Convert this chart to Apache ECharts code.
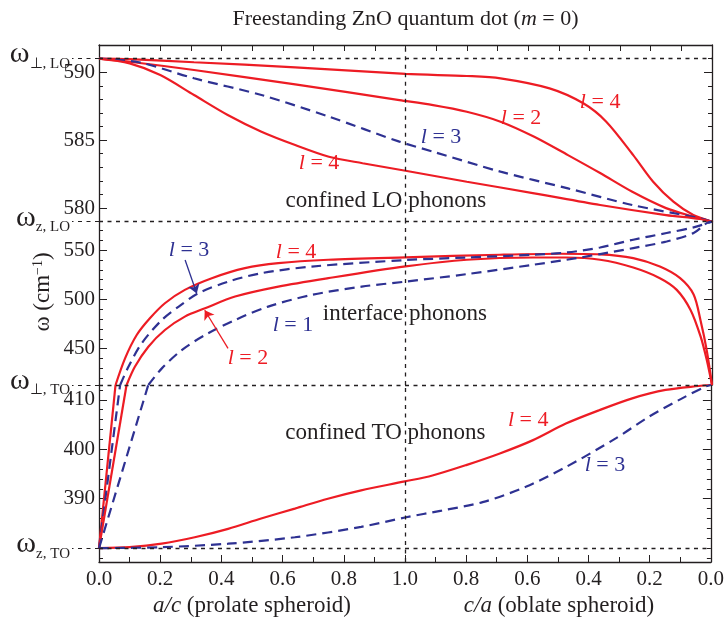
<!DOCTYPE html>
<html><head><meta charset="utf-8">
<script src="https://cdn.jsdelivr.net/npm/echarts@6/dist/echarts.min.js"></script>
<style>html,body{margin:0;padding:0;background:#fff}#c{width:727px;height:621px}</style>
</head><body><div id="c"></div>
<script>
// ---------------- data ----------------
// combined x: 0..1 = a/c (prolate), 1..2 = 2 - c/a (oblate)
const W_PERP_LO = 591, W_Z_LO = 579, W_PERP_TO = 413, W_Z_TO = 380;

// confined LO phonons
const LO_RED_L4_UPPER = [[0,591],[0.1,590.96],[0.31,590.73],[0.64,590.36],[1.0,589.87],[1.2,589.72],[1.31,589.55],[1.47,588.81],[1.58,587.71],[1.655,586.36],[1.743,583.9],[1.808,581.94],[1.874,580.47],[1.939,579.49],[2,579]];
const LO_RED_L2 = [[0,591],[0.1,590.77],[0.31,590.16],[0.64,589.1],[0.98,587.95],[1.09,587.58],[1.2,587.09],[1.31,586.36],[1.42,585.25],[1.53,583.9],[1.635,582.58],[1.74,581.2],[1.85,580.0],[1.94,579.37],[2,579]];
const LO_BLUE_L3 = [[0,591],[0.13,590.73],[0.31,589.55],[0.53,588.32],[0.75,586.73],[0.98,584.89],[1.09,584.15],[1.31,582.68],[1.53,581.45],[1.74,580.23],[1.96,579.25],[2,579]];
const LO_RED_L4_LOWER = [[0,591],[0.1,590.65],[0.2,589.79],[0.31,588.32],[0.42,586.85],[0.53,585.62],[0.64,584.64],[0.75,583.78],[0.86,583.3],[1.0,582.75],[1.2,581.94],[1.42,581.09],[1.635,580.23],[1.85,579.49],[1.96,579.2],[2,579]];

// interface phonons (middle band)
const IF_RED_L4 = [[0.054,413],[0.085,440.1],[0.123,463.8],[0.166,480.8],[0.215,496.1],[0.28,509.7],[0.368,521.6],[0.476,531.8],[0.585,536.9],[0.748,540.3],[1.0,542.8],[1.308,545.4],[1.5,546.4],[1.635,545.8],[1.743,542],[1.83,533.4],[1.896,521.6],[1.94,505],[1.963,478],[1.983,448],[2,413]];
const IF_RED_L2 = [[0.09,413],[0.117,431.5],[0.161,451.9],[0.215,468.9],[0.28,482.5],[0.346,491],[0.444,502.9],[0.585,513],[0.748,521.6],[1.0,533.5],[1.2,540.3],[1.416,542.6],[1.526,542.6],[1.635,540.3],[1.743,532.4],[1.83,521.6],[1.885,509.7],[1.93,489.3],[1.963,462.1],[1.983,438.3],[2,413]];
const IF_BLUE_L3 = [[0.069,413],[0.096,431.5],[0.139,455.3],[0.205,479.1],[0.26,492.7],[0.324,506.3],[0.422,518.1],[0.53,526.7],[0.694,533.4],[1.0,540],[1.2,542.6],[1.416,545.4],[1.526,547.7],[1.635,552.8],[1.743,560.7],[1.852,567.5],[1.94,573.2],[2,579]];
const IF_BLUE_L1 = [[0.161,413],[0.205,429.9],[0.27,448.5],[0.346,463.8],[0.444,479.1],[0.552,492.7],[0.694,504.6],[0.857,513],[1.0,518.1],[1.2,525.7],[1.416,535.2],[1.526,540.3],[1.635,546.1],[1.743,552.2],[1.852,558.9],[1.94,567.5],[1.983,577.6],[2,579]];

// steep rise of interface modes inside the TO band
const RISE_RED_L4 = [[0,380],[0.054,413]];
const RISE_BLUE_L3 = [[0,380],[0.069,413]];
const RISE_RED_L2 = [[0,380],[0.09,413]];
const RISE_BLUE_L1 = [[0,380],[0.161,413]];

// confined TO phonons
const TO_RED_L4 = [[0,380],[0.1,380.2],[0.205,380.9],[0.313,382.2],[0.422,383.9],[0.53,386],[0.64,388],[0.748,390],[0.857,391.7],[1.0,393.5],[1.09,394.7],[1.2,396.8],[1.308,399.1],[1.417,401.8],[1.526,405.2],[1.635,407.9],[1.743,410.3],[1.852,412],[1.96,412.8],[2,413]];
const TO_BLUE_L3 = [[0,380],[0.205,380.2],[0.422,380.9],[0.64,382.2],[0.857,384.3],[1.0,386.2],[1.12,387.6],[1.254,389.3],[1.395,392.4],[1.526,396.4],[1.689,402.2],[1.798,406.6],[1.906,410.3],[1.983,412.7],[2,413]];

// tick labels
const TOP_MAJOR = [580,585,590], MID_MAJOR = [450,500,550], BOT_MAJOR = [390,400,410];
const SPECIAL_LABELS = {591: '⊥, LO', 579: 'z, LO', 413: '⊥, TO', 380: 'z, TO'};

// annotations [x, ω, grid, text, colorKey]
const ANNOTATIONS = [
  [0.936, 580.52, 0, '{t|confined LO phonons}', 'k'],
  [0.998, 484.9, 1, '{t|interface phonons}', 'k'],
  [0.936, 403.27, 2, '{t|confined TO phonons}', 'k'],
  [0.718, 583.32, 0, '{i|l}{t| = 4}', 'r'],
  [1.377, 586.63, 0, '{i|l}{t| = 2}', 'r'],
  [1.635, 587.81, 0, '{i|l}{t| = 4}', 'r'],
  [1.116, 585.23, 0, '{i|l}{t| = 3}', 'b'],
  [0.294, 550.2, 1, '{i|l}{t| = 3}', 'b'],
  [0.643, 548.1, 1, '{i|l}{t| = 4}', 'r'],
  [0.633, 473.7, 1, '{i|l}{t| = 1}', 'b'],
  [0.486, 440.1, 1, '{i|l}{t| = 2}', 'r'],
  [1.403, 405.9, 2, '{i|l}{t| = 4}', 'r'],
  [1.654, 396.8, 2, '{i|l}{t| = 3}', 'b']
];
const ARROW_BLUE = [[0.281, 540], [0.319, 506]];
const ARROW_RED = [[0.421, 450.3], [0.345, 489]];

// ---------------- styles ----------------
const FONT = "'Liberation Serif', serif";
const RED = '#ED1C24', BLUE = '#2E3192', INK = '#231F20';
const COLORS = {r: RED, b: BLUE, k: INK};
const DOT = [4, 4.5];
const NUM_RICH = {n: {fontFamily: FONT, fontSize: 21, color: INK}};

const GRIDS = [
  {top: 45, height: 176.7, min: 579, max: 592, major: TOP_MAJOR, step: 1, special: [579, 591]},
  {top: 221.7, height: 163.3, min: 413, max: 579, major: MID_MAJOR, step: 10, special: [413]},
  {top: 385, height: 177, min: 377.2, max: 413, major: BOT_MAJOR, step: 2, special: [380]}
];

function minorTicks(g) {
  const out = [];
  for (let v = Math.ceil(g.min / g.step) * g.step; v <= g.max + 1e-9; v += g.step) {
    const r = Math.round(v * 1000) / 1000;
    if (g.major.indexOf(r) < 0) out.push(r);
  }
  return out;
}

const grid = GRIDS.map(g => ({left: 99, width: 613, top: g.top, height: g.height, containLabel: false}));

const xAxis = [
  {gridIndex: 0, type: 'value', position: 'top', min: 0, max: 2, interval: 0.1,
    axisLine: {show: true, lineStyle: {color: INK, width: 1.3}},
    axisTick: {show: true, inside: true, length: 6, lineStyle: {color: INK, width: 1}},
    axisLabel: {show: false}, splitLine: {show: false}},
  {gridIndex: 1, type: 'value', min: 0, max: 2, show: false, splitLine: {show: false}},
  {gridIndex: 2, type: 'value', position: 'bottom', min: 0, max: 2, interval: 0.2,
    axisLine: {show: true, lineStyle: {color: INK, width: 1.3}},
    axisTick: {show: true, inside: true, length: 7, lineStyle: {color: INK, width: 1}},
    minorTick: {show: true, splitNumber: 2, length: 5, lineStyle: {color: INK, width: 1}},
    axisLabel: {show: true, margin: 7, color: INK, fontFamily: FONT, fontSize: 21, rich: NUM_RICH,
      formatter: v => '{n|' + (v <= 1 ? v : 2 - v).toFixed(1) + '}'},
    splitLine: {show: false}}
];

const yAxis = [];
GRIDS.forEach((g, gi) => {
  const base = {gridIndex: gi, type: 'value', min: g.min, max: g.max, splitLine: {show: false}};
  yAxis.push(Object.assign({}, base, {position: 'left',
    axisLine: {show: true, lineStyle: {color: INK, width: 1.3}},
    axisTick: {show: true, inside: true, length: 8, customValues: g.major, lineStyle: {color: INK, width: 1}},
    axisLabel: {show: true, customValues: g.major, margin: 4, color: INK, fontFamily: FONT, fontSize: 21,
      rich: NUM_RICH, formatter: v => '{n|' + v + '}'}}));
  yAxis.push(Object.assign({}, base, {position: 'left',
    axisLine: {show: false},
    axisTick: {show: true, inside: true, length: 4, customValues: minorTicks(g), lineStyle: {color: INK, width: 1}},
    axisLabel: {show: false}}));
  yAxis.push(Object.assign({}, base, {position: 'left',
    axisLine: {show: false},
    axisTick: {show: true, inside: false, length: 27, customValues: g.special, lineStyle: {color: INK, width: 1.2, type: DOT}},
    axisLabel: {show: true, customValues: g.special, margin: 29, color: INK, fontFamily: FONT,
      formatter: v => '{w|ω}{s|' + SPECIAL_LABELS[Math.round(v)] + '}',
      rich: {
        w: {fontSize: 30, fontFamily: FONT, color: INK, verticalAlign: 'bottom', padding: [0, 0, 8, 0]},
        s: {fontSize: 15, fontFamily: FONT, color: INK, verticalAlign: 'bottom', padding: [0, 0, 6, 0]}
      }}}));
  yAxis.push(Object.assign({}, base, {position: 'right',
    axisLine: {show: true, lineStyle: {color: INK, width: 1.3}},
    axisTick: {show: true, inside: true, length: 8, customValues: g.major, lineStyle: {color: INK, width: 1}},
    axisLabel: {show: false}}));
  yAxis.push(Object.assign({}, base, {position: 'right',
    axisLine: {show: false},
    axisTick: {show: true, inside: true, length: 4, customValues: minorTicks(g), lineStyle: {color: INK, width: 1}},
    axisLabel: {show: false}}));
});

function curve(data, gi, color, dashed, extra) {
  return Object.assign({
    type: 'line', xAxisIndex: gi, yAxisIndex: gi * 5, data: data, symbol: 'none', clip: false,
    smooth: 0.3, silent: true, z: 3,
    lineStyle: {color: color, width: 2.2, type: dashed ? [10, 6] : 'solid'}
  }, extra || {});
}

function dotted(items) {
  return {silent: true, symbol: 'none', label: {show: false},
    lineStyle: {color: INK, width: 1.3, type: DOT}, data: items, animation: false};
}
function arrow(pts, color) {
  return {silent: true, symbol: ['none', 'arrow'], symbolSize: 9, label: {show: false},
    lineStyle: {color: color, width: 1.3, type: 'solid'},
    data: [[{coord: pts[0]}, {coord: pts[1]}]], animation: false};
}

const series = [
  curve(LO_RED_L4_UPPER, 0, RED, false, {markLine: dotted([{yAxis: W_PERP_LO}, {yAxis: W_Z_LO}, {xAxis: 1}])}),
  curve(LO_RED_L2, 0, RED, false),
  curve(LO_BLUE_L3, 0, BLUE, true),
  curve(LO_RED_L4_LOWER, 0, RED, false),
  curve(IF_RED_L4, 1, RED, false, {markLine: dotted([{xAxis: 1}])}),
  curve(IF_RED_L2, 1, RED, false, {markLine: arrow(ARROW_RED, RED)}),
  curve(IF_BLUE_L3, 1, BLUE, true, {markLine: arrow(ARROW_BLUE, BLUE)}),
  curve(IF_BLUE_L1, 1, BLUE, true),
  curve(TO_RED_L4, 2, RED, false, {markLine: dotted([{yAxis: W_PERP_TO}, {yAxis: W_Z_TO}, {xAxis: 1}])}),
  curve(TO_BLUE_L3, 2, BLUE, true),
  curve(RISE_RED_L4, 2, RED, false, {smooth: false}),
  curve(RISE_BLUE_L3, 2, BLUE, true, {smooth: false}),
  curve(RISE_RED_L2, 2, RED, false, {smooth: false}),
  curve(RISE_BLUE_L1, 2, BLUE, true, {smooth: false})
];

[0, 1, 2].forEach(gi => {
  series.push({
    type: 'scatter', xAxisIndex: gi, yAxisIndex: gi * 5, symbolSize: 1, silent: true, z: 5,
    itemStyle: {color: 'rgba(0,0,0,0)', opacity: 1},
    data: ANNOTATIONS.filter(a => a[2] === gi).map(a => {
      const c = COLORS[a[4]], fs = a[4] === 'k' ? 23 : 22;
      return {
        value: [a[0], a[1]],
        itemStyle: {opacity: 1},
        label: {show: true, position: 'inside', formatter: a[3], color: c, opacity: 1,
          textBorderWidth: 0, fontFamily: FONT, fontSize: fs,
          rich: {
            i: {fontStyle: 'italic', fontFamily: FONT, fontSize: fs, color: c, textBorderWidth: 0},
            t: {fontFamily: FONT, fontSize: fs, color: c, textBorderWidth: 0}
          }}
      };
    })
  });
});

const textEl = (txt, x, y, size, rich, extra) => Object.assign({
  type: 'text', x: x, y: y, silent: true,
  style: {text: txt, fontFamily: FONT, fontSize: size, fill: INK,
    textAlign: 'center', textVerticalAlign: 'middle', align: 'center', verticalAlign: 'middle', rich: rich}
}, extra || {});
const tr = size => ({
  t: {fontFamily: FONT, fontSize: size, fill: INK},
  i: {fontStyle: 'italic', fontFamily: FONT, fontSize: size, fill: INK}
});

const graphic = [
  textEl('{t|Freestanding ZnO quantum dot (}{i|m}{t| = 0)}', 405.5, 19, 22, tr(22)),
  textEl('{i|a/c}{t| (prolate spheroid)}', 252, 606, 23, tr(23)),
  textEl('{i|c/a}{t| (oblate spheroid)}', 559, 606, 23, tr(23)),
  textEl('{t|ω (cm}{sup|−1}{t|)}', 43, 292, 23,
    {t: {fontFamily: FONT, fontSize: 23, fill: INK},
     sup: {fontFamily: FONT, fontSize: 14, fill: INK, verticalAlign: 'top', padding: [0, 0, 10, 0]}},
    {rotation: Math.PI / 2})
];

const chart = echarts.init(document.getElementById('c'), null, {renderer: 'canvas'});
chart.setOption({
  animation: false,
  backgroundColor: '#fff',
  textStyle: {fontFamily: FONT},
  grid: grid, xAxis: xAxis, yAxis: yAxis, series: series, graphic: graphic
});
</script>
</body></html>
